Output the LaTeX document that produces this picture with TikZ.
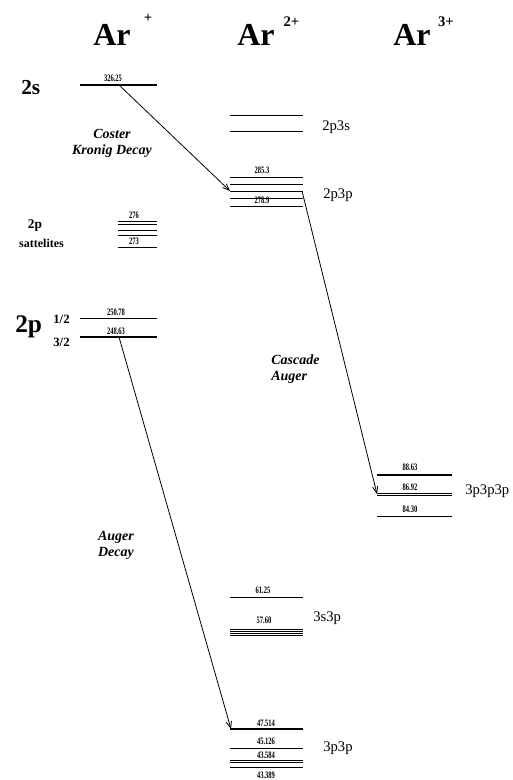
\documentclass[tikz,border=0pt]{standalone}
\usepackage{fontspec}
\usepackage{graphicx}
\setmainfont{Liberation Serif}
\usetikzlibrary{arrows.meta}
\newcommand{\nmlab}[1]{\scalebox{0.66}[1]{#1}}
\begin{document}
\begin{tikzpicture}[x=0.75pt,y=-0.75pt,
  lvl/.style={line width=1.0pt},
  lvlthin/.style={line width=0.6pt},
  num/.style={font=\bfseries\fontsize{7.4}{8}\selectfont, inner sep=0pt},
  arr/.style={line width=0.6pt, -{Straight Barb[length=5pt,width=4pt]}},
  ion/.style={font=\bfseries\fontsize{24}{26}\selectfont, inner sep=0pt, anchor=base west},
  ionsup/.style={font=\bfseries\fontsize{11}{12}\selectfont, inner sep=0pt},
  term/.style={font=\fontsize{11}{12}\selectfont, inner sep=0pt, anchor=west},
  proc/.style={font=\bfseries\itshape\fontsize{10.5}{12}\selectfont, inner sep=0pt},
  small/.style={font=\bfseries\fontsize{10}{11}\selectfont, inner sep=0pt},
  frac/.style={font=\bfseries\fontsize{9.5}{10}\selectfont, inner sep=0pt, anchor=base}
]
\useasboundingbox (0,0) rectangle (512,780);

% headers
\node[ion] (arA) at (93,46) {Ar};
\node[ionsup] (arAs) at (148,18) {+};
\node[ion] (arB) at (237,46) {Ar};
\node[ionsup] (arBs) at (291.5,22) {2+};
\node[ion] (arC) at (393,46) {Ar};
\node[ionsup] (arCs) at (446,22) {3+};

% Ar+ column
\node[font=\bfseries\fontsize{16}{17}\selectfont, inner sep=0pt, anchor=base west] (t2s) at (21,95) {2s};
\draw[lvl] (80,85) -- (157,85);
\node[num] (n1) at (113,78) {\nmlab{326.25}};

\node[small] (sat1) at (35,225.5) {2p};
\node[font=\bfseries\fontsize{9}{10}\selectfont, inner sep=0pt] (sat2) at (41.5,243) {sattelites};
\foreach \yy in {221,224.5,230,235,247} \draw[lvlthin] (118,\yy) -- (157,\yy);
\node[num] (n2) at (134,215) {\nmlab{276}};
\node[num] (n3) at (134,241) {\nmlab{273}};

\node[font=\bfseries\fontsize{19}{20}\selectfont, inner sep=0pt, anchor=base west] (t2p) at (15,332) {2p};
\node[frac] (h12) at (61.5,323) {1/2};
\node[frac] (h32) at (61.5,346) {3/2};
\draw[lvl] (80,318.5) -- (157,318.5);
\draw[lvl] (80,337) -- (157,337);
\node[num] (n4) at (116,312) {\nmlab{250.78}};
\node[num] (n5) at (116,331) {\nmlab{248.63}};

% Ar2+ column
\draw[lvlthin] (230,115.5) -- (303,115.5);
\draw[lvlthin] (230,131.5) -- (303,131.5);
\node[term] (t2p3s) at (322,127) {2p3s};

\foreach \yy in {177.5,184,191,198,206} \draw[lvlthin] (230,\yy) -- (303,\yy);
\node[num] (n6) at (262,170) {\nmlab{285.3}};
\node[num] (n7) at (262,200) {\nmlab{278.9}};
\node[term] (t2p3p) at (323,195) {2p3p};

\draw[lvlthin] (230,597) -- (303,597);
\foreach \yy in {629,631,633,635} \draw[lvlthin] (230,\yy) -- (303,\yy);
\node[num] (n8) at (263,590) {\nmlab{61.25}};
\node[num] (n9) at (264,620) {\nmlab{57.60}};
\node[term] (t3s3p) at (313,618) {3s3p};

\draw[lvl] (230,729) -- (303,729);
\foreach \yy in {748,760,762.3,767} \draw[lvlthin] (230,\yy) -- (303,\yy);
\node[num] (n10) at (266,723) {\nmlab{47.514}};
\node[num] (n11) at (266,741) {\nmlab{45.126}};
\node[num] (n12) at (266,755) {\nmlab{43.584}};
\node[num] (n13) at (266,775) {\nmlab{43.389}};
\node[term] (t3p3p) at (323,748) {3p3p};

% Ar3+ column
\foreach \yy in {474,475.8,493.5,495.3,516} \draw[lvlthin] (377,\yy) -- (452,\yy);
\node[num] (n14) at (410,467) {\nmlab{88.63}};
\node[num] (n15) at (410,487) {\nmlab{86.92}};
\node[num] (n16) at (410,509) {\nmlab{84.30}};
\node[term] (t3p3p3p) at (465,491) {3p3p3p};

% process labels
\node[proc, align=center] (ck) at (112,143) {Coster\\Kronig Decay};
\node[proc, align=left, anchor=west] (ca) at (271,369) {Cascade\\Auger};
\node[proc, align=center] (ad) at (116,545) {Auger\\Decay};

% arrows
\coordinate (s2s) at (119,85);
\coordinate (e2p3p) at (230,191);
\coordinate (s2p3p) at (302,191);
\coordinate (e3p3p3p) at (377,494);
\coordinate (s2p) at (119,337);
\coordinate (e3p3p) at (231,729);
\draw[arr] (s2s) -- (e2p3p);
\draw[arr] (s2p3p) -- (e3p3p3p);
\draw[arr] (s2p) -- (e3p3p);
\end{tikzpicture}
\end{document}
